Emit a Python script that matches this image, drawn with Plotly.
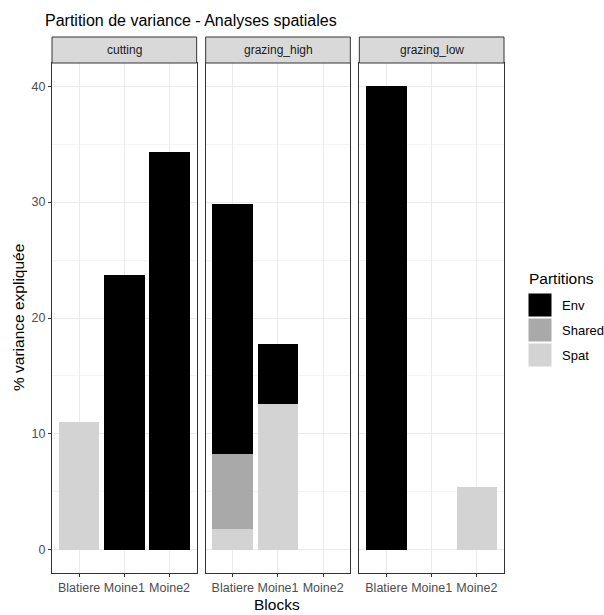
import plotly.graph_objects as go
from plotly.subplots import make_subplots

# panels and blocks
treatments = ["cutting", "grazing_high", "grazing_low"]
blocks = ["Blatiere", "Moine1", "Moine2"]
partitions = ["Env", "Shared", "Spat"]

# % variance per partition, one list per panel (None = no bar)
spat_cutting = [11.0, None, None]
shared_cutting = [None, None, None]
env_cutting = [None, 23.7, 34.3]

spat_high = [1.8, 12.6, None]
shared_high = [6.5, None, None]
env_high = [21.5, 5.2, None]

spat_low = [None, None, 5.4]
shared_low = [None, None, None]
env_low = [40.0, None, None]

y_ticks = [0, 10, 20, 30, 40]

panels = {
    "cutting": {"Spat": spat_cutting, "Shared": shared_cutting, "Env": env_cutting},
    "grazing_high": {"Spat": spat_high, "Shared": shared_high, "Env": env_high},
    "grazing_low": {"Spat": spat_low, "Shared": shared_low, "Env": env_low},
}
colors = {"Env": "#000000", "Shared": "#A9A9A9", "Spat": "#D3D3D3"}

FONT = "Liberation Sans"
W, H = 604, 615
ml, mr, mt, mb = 52, 100, 63, 42
pw = W - ml - mr
ph = H - mt - mb


def px_x(x):
    return (x - ml) / pw


def px_y(y):
    return (H - mb - y) / ph


fig = make_subplots(rows=1, cols=3, shared_yaxes=True, horizontal_spacing=9 / pw)

for i, t in enumerate(treatments):
    # stacked bottom to top: Spat, Shared, Env
    for part in ["Spat", "Shared", "Env"]:
        fig.add_trace(go.Bar(
            x=blocks, y=panels[t][part], name=part, legendgroup=part,
            showlegend=False, marker=dict(color=colors[part], line=dict(width=0)),
            width=0.9, hoverinfo="skip",
        ), row=1, col=i + 1)

axis_style = dict(
    showline=True, linecolor="#333333", linewidth=1, mirror=True,
    gridcolor="#EBEBEB", gridwidth=1,
    ticks="outside", ticklen=3, tickcolor="#333333",
    tickfont=dict(family=FONT, size=12.5, color="#4D4D4D"),
    zeroline=False, automargin=False,
)
for i in range(3):
    fig.update_xaxes(axis_style, row=1, col=i + 1, categoryorder="array",
                     categoryarray=blocks, range=[-0.6, 2.6], tickangle=0)
    fig.update_yaxes(axis_style, row=1, col=i + 1, range=[-2, 42],
                     tickvals=y_ticks,
                     minor=dict(showgrid=True, gridcolor="#F4F4F4", gridwidth=0.5,
                                tickvals=[5, 15, 25, 35], ticks=""))
    if i > 0:
        # only the left panel carries y ticks
        fig.update_yaxes(ticks="", row=1, col=i + 1)

# facet strips
strip_h = 26 / ph
for i, t in enumerate(treatments):
    dom = fig.layout["xaxis" if i == 0 else f"xaxis{i + 1}"].domain
    fig.add_shape(type="rect", xref="paper", yref="paper",
                  x0=dom[0], x1=dom[1], y0=1, y1=1 + strip_h,
                  fillcolor="#D9D9D9", line=dict(color="#333333", width=1))
    fig.add_annotation(text=t, xref="paper", yref="paper",
                       x=(dom[0] + dom[1]) / 2, y=1 + strip_h / 2,
                       showarrow=False, xanchor="center", yanchor="middle",
                       font=dict(family=FONT, size=12, color="#1A1A1A"))

# legend drawn as keys beside the panels
fig.add_annotation(text="Partitions", xref="paper", yref="paper",
                   x=px_x(527), y=px_y(278), xanchor="left", yanchor="middle",
                   showarrow=False, font=dict(family=FONT, size=15.5, color="#000000"))
for k, part in enumerate(partitions):
    top = 293 + k * 25
    fig.add_shape(type="rect", xref="paper", yref="paper",
                  x0=px_x(528), x1=px_x(552), y0=px_y(top + 24), y1=px_y(top),
                  fillcolor=colors[part], line=dict(color="white", width=1))
    fig.add_annotation(text=part, xref="paper", yref="paper",
                       x=px_x(560), y=px_y(top + 12), xanchor="left", yanchor="middle",
                       showarrow=False, font=dict(family=FONT, size=13, color="#000000"))

fig.add_annotation(text="Blocks", xref="paper", yref="paper", x=px_x(277), y=px_y(604),
                   showarrow=False, xanchor="center", yanchor="middle",
                   font=dict(family=FONT, size=15.5, color="#000000"))
fig.add_annotation(text="% variance expliquée", xref="paper", yref="paper",
                   x=px_x(18), y=px_y(318), textangle=-90, showarrow=False,
                   xanchor="center", yanchor="middle",
                   font=dict(family=FONT, size=15.5, color="#000000"))

fig.update_layout(
    width=W, height=H,
    margin=dict(l=ml, r=mr, t=mt, b=mb, autoexpand=False),
    barmode="stack",
    showlegend=False,
    hovermode=False,
    plot_bgcolor="white", paper_bgcolor="white",
    title=dict(text="Partition de variance - Analyses spatiales",
               x=(ml - 7) / W, xanchor="left", y=1 - 20 / H, yanchor="middle",
               font=dict(family=FONT, size=16, color="#000000")),
)

fig.write_html("out.html", config={"displayModeBar": False},
               post_script="document.body.style.margin='0';")
